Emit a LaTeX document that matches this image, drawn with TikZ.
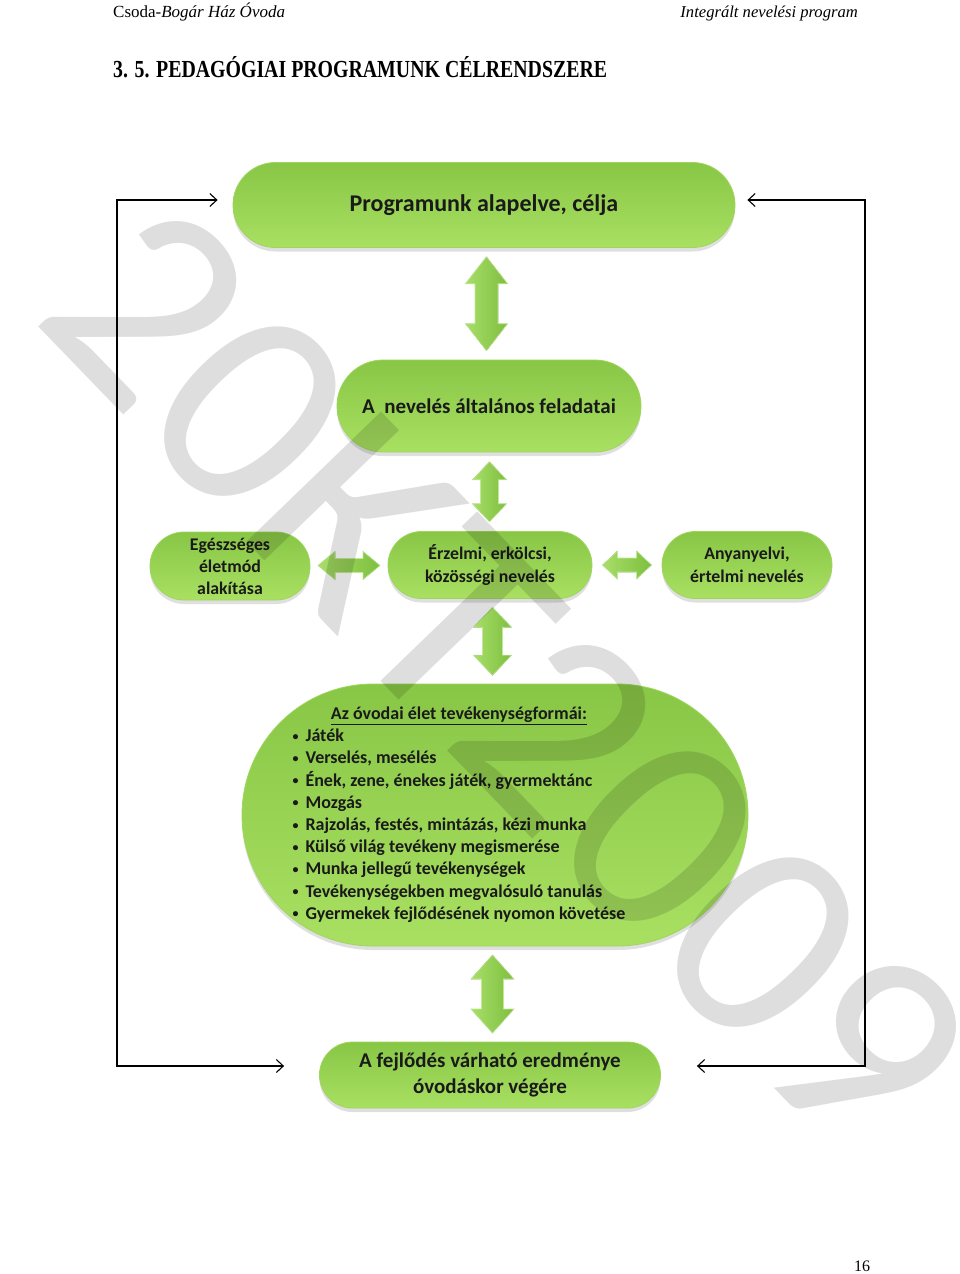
\documentclass[tikz,border=0pt]{standalone}
\usepackage{fontspec}
\setmainfont{Liberation Serif}
\newfontfamily\calfont{Carlito}
\usetikzlibrary{shapes.misc,shadows,calc,arrows.meta}
\definecolor{gTop}{HTML}{88C646}
\definecolor{gBot}{HTML}{A9E062}
\definecolor{gRim}{HTML}{9ED65A}
\definecolor{aL}{HTML}{A8DE68}
\definecolor{aR}{HTML}{7DBF3F}
\definecolor{txt}{HTML}{1A1A1A}
\newcommand{\smallbul}{\raisebox{1.5pt}{\fontsize{12}{12}\selectfont •}}
\tikzset{
  pill/.style={rounded rectangle, top color=gTop, bottom color=gBot, draw=gRim, line width=0.8pt,
    drop shadow={shadow xshift=0pt, shadow yshift=-4pt, opacity=0.25},
    text=txt, align=center, inner sep=0pt},
  arrfill/.style={left color=aL, right color=aR, draw=aL!70!white, line width=0.6pt},
  fb/.style={draw=black, line width=1.1pt, >={Straight Barb[length=7pt,width=13pt]}, <->},
  pics/darr/.style n args={4}{code={
    \filldraw[arrfill] (0,{-#1/2}) -- (#2,{-#1/2+#4}) -- (#3,{-#1/2+#4}) -- (#3,{#1/2-#4})
      -- (#2,{#1/2-#4}) -- (0,{#1/2}) -- ({-#2},{#1/2-#4}) -- ({-#3},{#1/2-#4})
      -- ({-#3},{-#1/2+#4}) -- ({-#2},{-#1/2+#4}) -- cycle;
  }}
}
\begin{document}
\begin{tikzpicture}[x=1pt,y=-1pt]
\useasboundingbox[fill=white] (0,0) rectangle (960,1274);

% header
\node[anchor=base west, inner sep=0pt, font=\fontsize{17}{20}\selectfont] (hl) at (113,17) {Csoda-\textit{Bogár Ház Óvoda}};
\node[anchor=base east, inner sep=0pt, font=\fontsize{16.6}{20}\selectfont] (hr) at (858,17) {\textit{Integrált nevelési program}};
\node[anchor=base west, inner sep=0pt, font=\bfseries\fontsize{24.5}{28}\selectfont] (title) at (113,77) {\scalebox{0.81}[1]{3. 5. PEDAGÓGIAI PROGRAMUNK CÉLRENDSZERE}};
\node[anchor=base, inner sep=0pt, font=\fontsize{16}{20}\selectfont] (pg) at (862,1271) {16};

% boxes
\node[pill, minimum width=502pt, minimum height=85pt, font=\calfont\bfseries\fontsize{24}{28}\selectfont] (prog) at (484,205) {Programunk alapelve, célja};
\node[pill, minimum width=304pt, minimum height=92pt, font=\calfont\bfseries\fontsize{21}{25}\selectfont] (gen) at (489,406) {A\ \ nevelés általános feladatai};
\node[pill, minimum width=160pt, minimum height=68pt, font=\calfont\bfseries\fontsize{17.8}{22}\selectfont] (egs) at (230,566) {Egészséges\\életmód\\alakítása};
\node[pill, minimum width=204pt, minimum height=67pt, font=\calfont\bfseries\fontsize{17.8}{23}\selectfont] (erz) at (490,565) {Érzelmi, erkölcsi,\\közösségi nevelés};
\node[pill, minimum width=170pt, minimum height=67pt, font=\calfont\bfseries\fontsize{17.8}{23}\selectfont] (any) at (747,565) {Anyanyelvi,\\értelmi nevelés};
\node[pill, minimum width=506pt, minimum height=262pt] (act) at (495,815) {};
\node[inner sep=0pt, text=txt, font=\calfont\bfseries\fontsize{18}{22.2}\selectfont] (actlist) at ($(act.center)+(-36,0)$) {%
\begin{tabular}{@{}l@{\hspace{7pt}}l@{}}
\multicolumn{2}{c}{\underline{Az óvodai élet tevékenységformái:}}\\
\smallbul&Játék\\
\smallbul&Verselés, mesélés\\
\smallbul&Ének, zene, énekes játék, gyermektánc\\
\smallbul&Mozgás\\
\smallbul&Rajzolás, festés, mintázás, kézi munka\\
\smallbul&Külső világ tevékeny megismerése\\
\smallbul&Munka jellegű tevékenységek\\
\smallbul&Tevékenységekben megvalósuló tanulás\\
\smallbul&Gyermekek fejlődésének nyomon követése
\end{tabular}};
\node[pill, minimum width=341pt, minimum height=66pt, font=\calfont\bfseries\fontsize{21}{26}\selectfont] (res) at (490,1075) {A fejlődés várható eredménye\\óvodáskor végére};

% block arrows
\pic at ($(prog.south)!0.5!(gen.north)$) {darr={94}{21}{11.5}{27}};
\pic at ($(gen.south)!0.5!(erz.north)$) {darr={60}{17}{9}{18}};
\pic[rotate=90] at ($(egs.east)!0.5!(erz.west)$) {darr={62}{14}{7}{17}};
\pic[rotate=90] at ($(erz.east)!0.5!(any.west)$) {darr={49}{14}{7}{15}};
\pic at ($(erz.south)!0.5!(act.north)$) {darr={68}{19}{10}{20}};
\pic at ($(act.south)!0.5!(res.north)$) {darr={78}{21.5}{11}{24}};

% feedback loops
\coordinate (cL) at (117,0);
\coordinate (cR) at (865,0);
\coordinate (pL) at ($(prog.west)+(-15,-5)$);
\coordinate (rL) at ($(res.west)+(-35,-9)$);
\coordinate (pR) at ($(prog.east)+(12,-5)$);
\coordinate (rR) at ($(res.east)+(36,-9)$);
\draw[fb] (pL) -- (pL -| cL) -- (rL -| cL) -- (rL);
\draw[fb] (pR) -- (pR -| cR) -- (rR -| cR) -- (rR);

% watermark
\node[rotate=-46, text=black, text opacity=0.13, inner sep=0pt, font=\calfont\fontsize{292}{300}\selectfont] (wm) at (507,677) {20KT2009};
\end{tikzpicture}
\end{document}
